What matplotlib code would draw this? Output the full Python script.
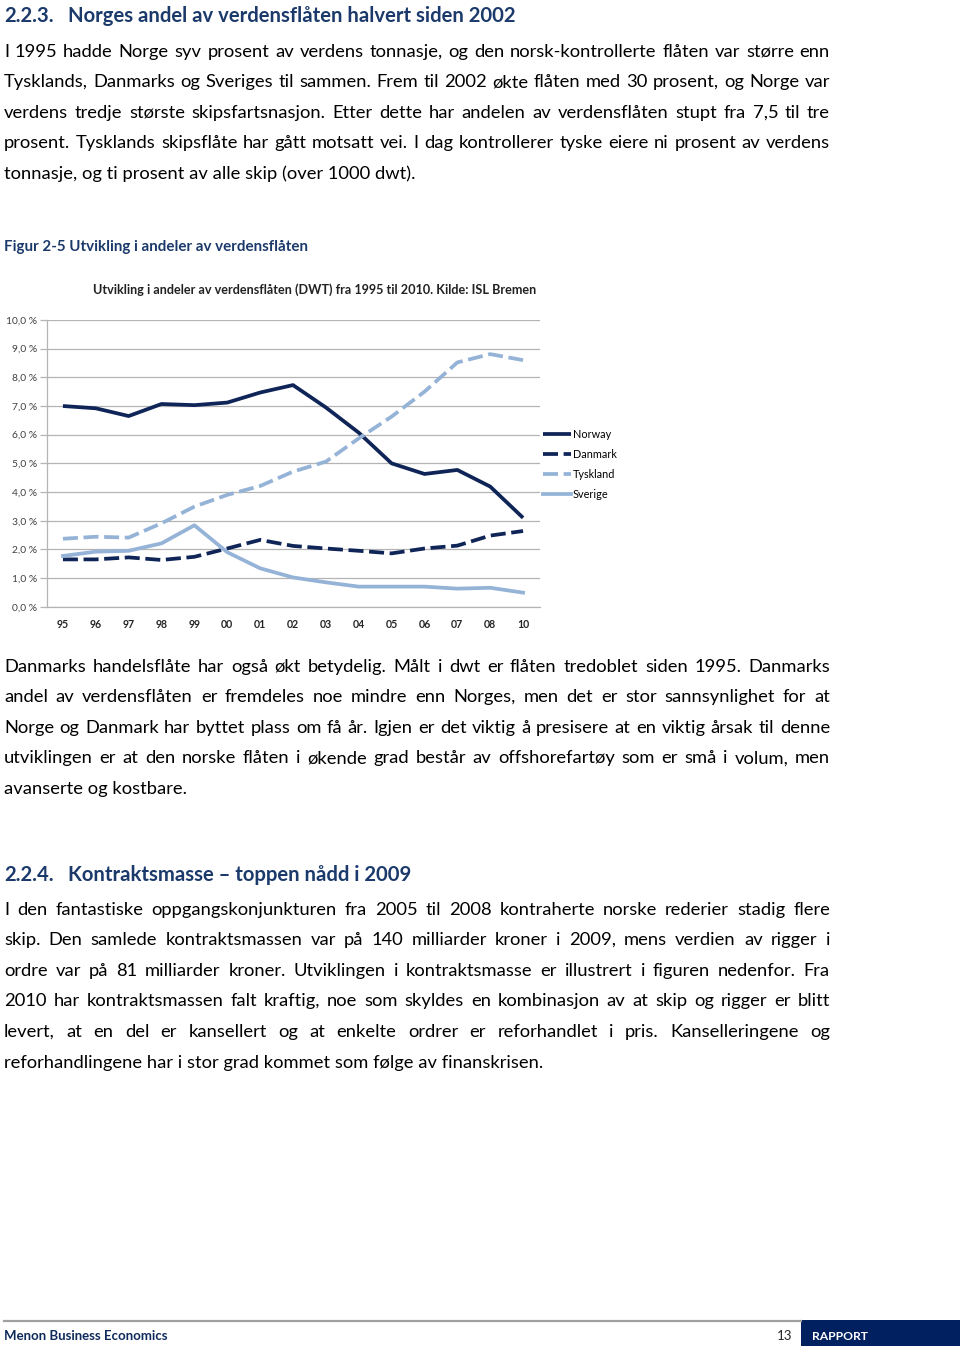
import matplotlib
matplotlib.use("Agg")
import matplotlib.pyplot as plt
from matplotlib.font_manager import FontProperties
from matplotlib.lines import Line2D
from matplotlib.patches import Rectangle

# ---------------- data ----------------
years = ['95', '96', '97', '98', '99', '00', '01', '02', '03', '04', '05', '06', '07', '08', '10']
norway = [7.00, 6.92, 6.65, 7.07, 7.03, 7.12, 7.47, 7.73, 6.95, 6.07, 5.00, 4.63, 4.77, 4.19, 3.10]
danmark = [1.65, 1.65, 1.72, 1.63, 1.74, 2.03, 2.33, 2.12, 2.03, 1.95, 1.86, 2.03, 2.13, 2.48, 2.64]
tyskland = [2.37, 2.44, 2.41, 2.91, 3.49, 3.90, 4.21, 4.71, 5.06, 5.87, 6.63, 7.50, 8.52, 8.81, 8.60]
sverige = [1.77, 1.92, 1.95, 2.21, 2.84, 1.90, 1.34, 1.02, 0.85, 0.70, 0.70, 0.70, 0.63, 0.66, 0.49]
series_names = ['Norway', 'Danmark', 'Tyskland', 'Sverige']
y_ticks = [0, 1, 2, 3, 4, 5, 6, 7, 8, 9, 10]

heading1_num = "2.2.3."
heading1 = "Norges andel av verdensflåten halvert siden 2002"
para1 = [
    "I 1995 hadde Norge syv prosent av verdens tonnasje, og den norsk-kontrollerte flåten var større enn",
    "Tysklands, Danmarks og Sveriges til sammen. Frem til 2002 økte flåten med 30 prosent, og Norge var",
    "verdens tredje største skipsfartsnasjon. Etter dette har andelen av verdensflåten stupt fra 7,5 til tre",
    "prosent. Tysklands skipsflåte har gått motsatt vei. I dag kontrollerer tyske eiere ni prosent av verdens",
    "tonnasje, og ti prosent av alle skip (over 1000 dwt).",
]
fig_caption = "Figur 2-5 Utvikling i andeler av verdensflåten"
chart_title = "Utvikling i andeler av verdensflåten (DWT) fra 1995 til 2010. Kilde: ISL Bremen"
para2 = [
    "Danmarks handelsflåte har også økt betydelig. Målt i dwt er flåten tredoblet siden 1995. Danmarks",
    "andel av verdensflåten er fremdeles noe mindre enn Norges, men det er stor sannsynlighet for at",
    "Norge og Danmark har byttet plass om få år. Igjen er det viktig å presisere at en viktig årsak til denne",
    "utviklingen er at den norske flåten i økende grad består av offshorefartøy som er små i volum, men",
    "avanserte og kostbare.",
]
heading2_num = "2.2.4."
heading2 = "Kontraktsmasse – toppen nådd i 2009"
para3 = [
    "I den fantastiske oppgangskonjunkturen fra 2005 til 2008 kontraherte norske rederier stadig flere",
    "skip. Den samlede kontraktsmassen var på 140 milliarder kroner i 2009, mens verdien av rigger i",
    "ordre var på 81 milliarder kroner. Utviklingen i kontraktsmasse er illustrert i figuren nedenfor. Fra",
    "2010 har kontraktsmassen falt kraftig, noe som skyldes en kombinasjon av at skip og rigger er blitt",
    "levert, at en del er kansellert og at enkelte ordrer er reforhandlet i pris. Kanselleringene og",
    "reforhandlingene har i stor grad kommet som følge av finanskrisen.",
]
footer_left = "Menon Business Economics"
footer_page = "13"
footer_right = "RAPPORT"

# ---------------- layout ----------------
W, H = 960, 1352
FONT = 'Lato'
NAVY = '#0F2557'
HEAD = '#1B3A6B'
LIGHT = '#95B3D7'
GRID = '#B4B4B4'

plt.rcParams['font.family'] = [FONT, 'DejaVu Sans']
fig = plt.figure(figsize=(W / 100, H / 100), dpi=100)
fig.patch.set_facecolor('white')
renderer = fig.canvas.get_renderer()


def fx(x):
    return x / W


def fy(y):
    return 1 - y / H


def twidth(s, size, weight='normal'):
    fp = FontProperties(family=FONT, weight=weight, size=size)
    w, h, d = renderer.get_text_width_height_descent(s, fp, ismath=False)
    return w


def fit(s, target, weight='normal'):
    return 10 * target / twidth(s, 10, weight)


X0, X1 = 4, 830
body_size = fit(para1[-1], 416)
for ln in para1 + para2 + para3:
    body_size = min(body_size, fit(ln, (X1 - X0) * 0.985))


def put_par(lines, y_first, pitch=30.6, size=body_size):
    for i, ln in enumerate(lines):
        yb = y_first + i * pitch + 0.30 * size * 100 / 72
        last = i == len(lines) - 1
        if last:
            fig.text(fx(X0), fy(yb), ln, fontsize=size, color='black', va='baseline', ha='left')
            continue
        words = ln.split(' ')
        ws = [twidth(w, size) for w in words]
        gap = (X1 - X0 - sum(ws)) / (len(words) - 1)
        x = X0
        for w, wd in zip(words, ws):
            fig.text(fx(x), fy(yb), w, fontsize=size, color='black', va='baseline', ha='left')
            x += wd + gap


head_size = fit(heading1, 449, 'bold')


def put_heading(num, txt, y):
    yb = y + 0.33 * head_size * 100 / 72
    fig.text(fx(4), fy(yb), num, fontsize=head_size, weight='bold', color=HEAD, va='baseline')
    fig.text(fx(68), fy(yb), txt, fontsize=head_size, weight='bold', color=HEAD, va='baseline')


put_heading(heading1_num, heading1, 15)
put_par(para1, 51)

cap_size = fit(fig_caption, 304, 'bold')
fig.text(fx(4), fy(246 + 0.33 * cap_size * 100 / 72), fig_caption, fontsize=cap_size,
         weight='bold', color=HEAD, va='baseline')

title_size = fit(chart_title, 444, 'bold')
fig.text(fx(93), fy(290 + 0.33 * title_size * 100 / 72), chart_title, fontsize=title_size,
         weight='bold', color='#222222', va='baseline')

put_par(para2, 666)
put_heading(heading2_num, heading2, 874)
put_par(para3, 909)

# ---------------- chart ----------------
ax = fig.add_axes([fx(46.5), fy(606.7), 493 / W, 286.7 / H])
x = list(range(len(years)))
lw = 2.7
dash = (0, (4.0, 1.5))
ax.plot(x, norway, color=NAVY, lw=lw, solid_joinstyle='round', solid_capstyle='butt', label=series_names[0], zorder=3)
ax.plot(x, danmark, color=NAVY, lw=lw, linestyle=dash, label=series_names[1], zorder=4)
ax.plot(x, tyskland, color=LIGHT, lw=lw, linestyle=dash, label=series_names[2], zorder=5)
ax.plot(x, sverige, color=LIGHT, lw=lw, solid_joinstyle='round', label=series_names[3], zorder=6)

ax.set_xlim(-0.5, len(years) - 0.5)
ax.set_ylim(0, 10)
ax.set_yticks(y_ticks)
ax.set_yticklabels([f"{v:.1f}".replace('.', ',') + ' %' for v in y_ticks],
                   fontsize=7.4, color='#404040')
ax.set_xticks(x)
ax.set_xticklabels(years, fontsize=7.6, fontweight='bold', color='#262626')
ax.grid(axis='y', color=GRID, lw=0.9)
ax.set_axisbelow(True)
for s in ['top', 'right']:
    ax.spines[s].set_visible(False)
for s in ['left', 'bottom']:
    ax.spines[s].set_color(GRID)
    ax.spines[s].set_linewidth(0.9)
ax.tick_params(axis='y', length=5, color=GRID, width=0.9, pad=1.5)
ax.tick_params(axis='x', length=0, pad=9)
ax.set_facecolor('none')

handles, labels = ax.get_legend_handles_labels()
fig.legend(handles, labels, loc='upper left', bbox_to_anchor=(fx(540), fy(426)),
           frameon=False, fontsize=7.8, handlelength=2.6, handletextpad=0.1,
           labelspacing=0.83, borderaxespad=0, borderpad=0.3)

# ---------------- footer ----------------
fig.add_artist(Line2D([fx(4), fx(801)], [fy(1321), fy(1321)], color='#A0A0A0', lw=1.6))
fig.add_artist(Rectangle((fx(801), fy(1346)), (W - 801) / W, 26 / H, color='#002060', lw=0))
fl_size = fit(footer_left, 165, 'bold')
fig.text(fx(4), fy(1336), footer_left, fontsize=fl_size, weight='bold', color='#0E2A5C', va='center')
fig.text(fx(792), fy(1336), footer_page, fontsize=fl_size, color='#262626', va='center', ha='right')
fig.text(fx(812), fy(1336), footer_right, fontsize=fit(footer_right, 56, 'bold'), weight='bold',
         color='white', va='center')

fig.savefig('out.png', dpi=100, facecolor='white')
